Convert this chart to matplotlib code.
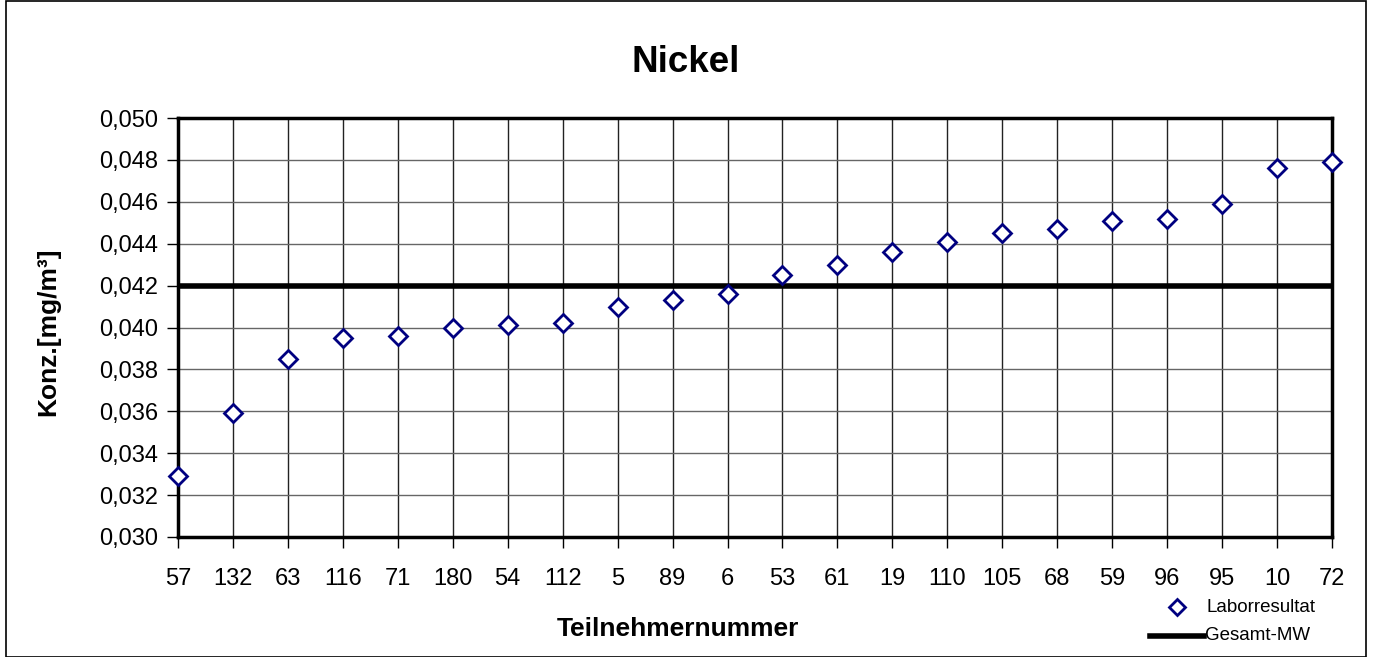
import matplotlib.pyplot as plt
from matplotlib.patches import Rectangle
from matplotlib.ticker import FuncFormatter
from matplotlib.lines import Line2D

plt.rcParams['font.family'] = ['Liberation Sans', 'DejaVu Sans']

teilnehmer = ['57', '132', '63', '116', '71', '180', '54', '112', '5', '89', '6',
              '53', '61', '19', '110', '105', '68', '59', '96', '95', '10', '72']
laborresultat = [0.0329, 0.0359, 0.0385, 0.0395, 0.0396, 0.0400, 0.0401, 0.0402,
                 0.0410, 0.0413, 0.0416, 0.0425, 0.0430, 0.0436, 0.0441, 0.0445,
                 0.0447, 0.0451, 0.0452, 0.0459, 0.0476, 0.0479]
gesamt_mw = 0.0420

fig = plt.figure(figsize=(13.74, 6.57), dpi=100)
ax = fig.add_axes([178 / 1374, 1 - 537 / 657, (1332 - 178) / 1374, (537 - 118) / 657])

x = list(range(len(teilnehmer)))
ax.plot(x, laborresultat, linestyle='none', marker='D', markersize=9,
        markerfacecolor='white', markeredgecolor='#000080', markeredgewidth=2,
        clip_on=False, zorder=5)
ax.axhline(gesamt_mw, color='black', linewidth=4, zorder=4)

ax.set_xlim(0, len(teilnehmer) - 1)
ax.set_ylim(0.030, 0.050)
ax.set_xticks(x)
ax.set_xticklabels(teilnehmer)
ax.set_yticks([0.030 + 0.002 * i for i in range(11)])
ax.yaxis.set_major_formatter(FuncFormatter(lambda v, p: f'{v:.3f}'.replace('.', ',')))
ax.tick_params(axis='both', labelsize=17, length=8, width=1, direction='out', color='black')
ax.tick_params(axis='x', pad=14)
ax.tick_params(axis='y', pad=6)
ax.grid(True, axis='x', color='#222222', linewidth=1)
ax.grid(True, axis='y', color='#666666', linewidth=1)
ax.set_axisbelow(True)
for s in ax.spines.values():
    s.set_linewidth(2.5)
    s.set_color('black')

fig.text(686 / 1374, 1 - 63 / 657, 'Nickel', fontsize=26.5, fontweight='bold',
         ha='center', va='center')
fig.text(678 / 1374, 1 - 629 / 657, 'Teilnehmernummer', fontsize=19, fontweight='bold',
         ha='center', va='center')
fig.text(48 / 1374, 1 - 332 / 657, 'Konz.[mg/m³]', fontsize=19, fontweight='bold',
         ha='center', va='center', rotation=90)

# legend drawn manually
fig.add_artist(Line2D([1177 / 1374], [1 - 607 / 657], marker='D', markersize=8,
                      markerfacecolor='white', markeredgecolor='#000080',
                      markeredgewidth=2, linestyle='none'))
fig.text(1207 / 1374, 1 - 607 / 657, 'Laborresultat', fontsize=13.5, ha='left', va='center')
fig.add_artist(Line2D([1150 / 1374, 1204 / 1374], [1 - 636 / 657, 1 - 636 / 657],
                      color='black', linewidth=4))
fig.text(1205 / 1374, 1 - 636 / 657, 'Gesamt-MW', fontsize=13.5, ha='left', va='center')

fig.add_artist(Rectangle((6 / 1374, 0), (1366 - 6) / 1374, 1 - 1 / 657,
                         transform=fig.transFigure, fill=False,
                         edgecolor='black', linewidth=1.2))

fig.savefig('out.png', dpi=100)
